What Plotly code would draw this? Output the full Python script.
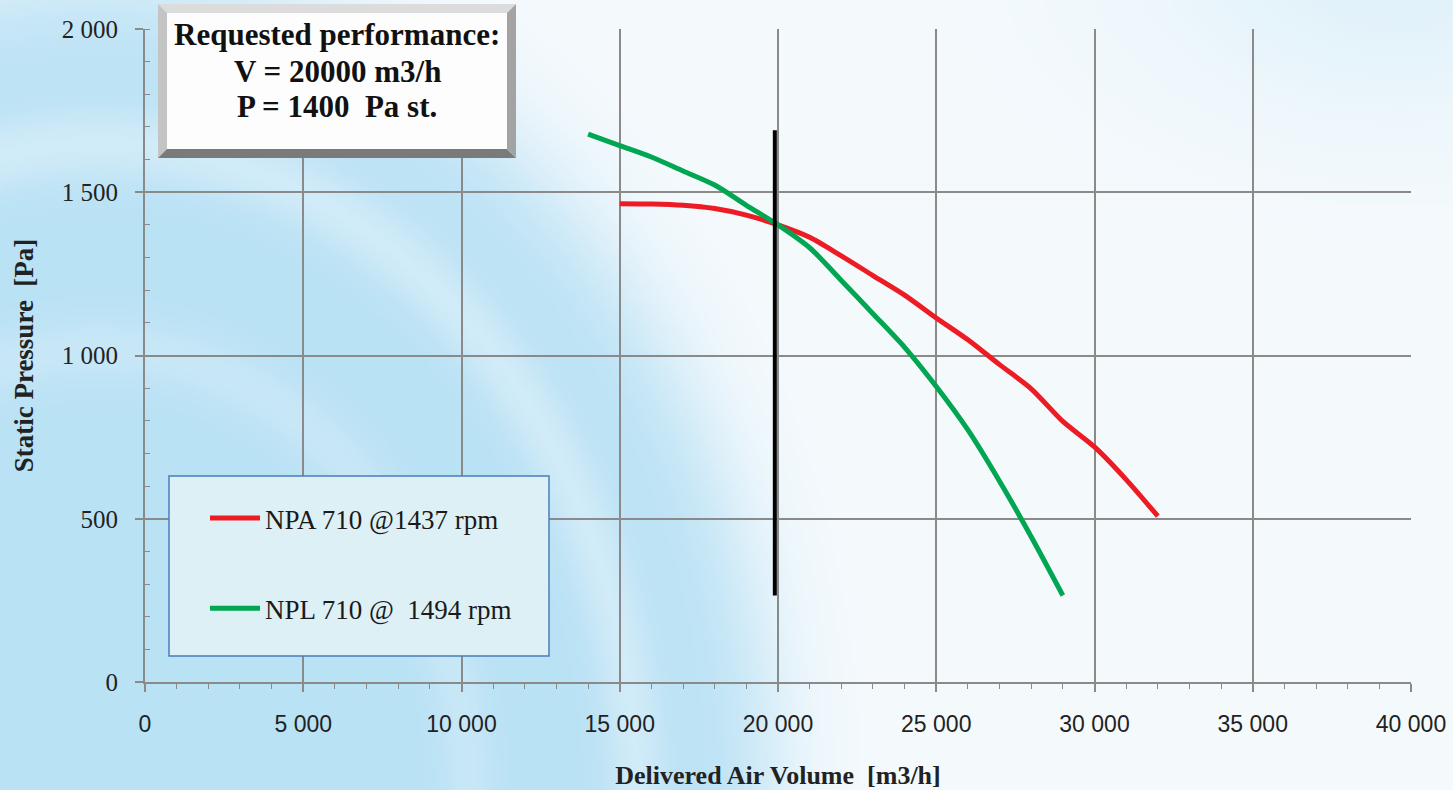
import numpy as np, zlib, struct, base64
import plotly.graph_objects as go

# ---------------- data ----------------
npa_x = [15000, 16000, 17000, 18000, 19000, 20000, 21000, 22000, 23000,
         24000, 25000, 26000, 27000, 28000, 29000, 30000, 31000, 32000]
npa_y = [1465, 1464, 1460, 1450, 1430, 1400, 1362, 1305, 1245,
         1185, 1115, 1048, 972, 898, 798, 720, 620, 508]

npl_x = [14000, 15000, 16000, 17000, 18000, 19000, 20000, 21000, 22000,
         23000, 24000, 25000, 26000, 27000, 28000, 29000]
npl_y = [1678, 1643, 1608, 1565, 1522, 1460, 1400, 1330, 1230,
         1128, 1025, 905, 772, 615, 445, 265]

req_x = [19900, 19900]
req_y = [265, 1690]

x_ticks = [0, 5000, 10000, 15000, 20000, 25000, 30000, 35000, 40000]
y_ticks = [0, 500, 1000, 1500, 2000]

box_lines = ["Requested performance:", "V = 20000 m3/h", "P = 1400\u00a0 Pa st."]

# ---------------- geometry helpers (decoration only) ----------------
W, H = 1453, 790
ML, MR, MT, MB = 145, 42, 29, 108
PW, PH = W - ML - MR, H - MT - MB
def PX(px): return (px - ML) / PW
def PY(py): return (H - MB - py) / PH

# ---------------- background image ----------------
lw, lh = 364, 198
xs = (np.arange(lw) + 0.5) * W / lw
ys = (np.arange(lh) + 0.5) * H / lh
X, Y = np.meshgrid(xs, ys)
e = np.sqrt(((X - 100) / 670) ** 2 + ((Y - 800) / 820) ** 2)
t = 1 / (1 + np.exp((e - 1) / 0.04))
streak = 0.4 * np.exp(-((e - 0.8) / 0.045) ** 2) + 0.25 * np.exp(-((e - 0.55) / 0.04) ** 2)
t = t * (1 - streak)
tint = 0.35 * np.exp(-(((X - 1400) / 260) ** 2 + ((Y + 40) / 160) ** 2))
t = np.maximum(t, tint)
blue = np.array([186, 226, 245], float)
white = np.array([245, 250, 253], float)
img = (white[None, None, :] * (1 - t[..., None]) + blue[None, None, :] * t[..., None]).clip(0, 255).astype(np.uint8)

def png_uri(a):
    h, w, _ = a.shape
    raw = b"".join(b"\x00" + a[i].tobytes() for i in range(h))
    def chunk(tag, data):
        c = struct.pack(">I", len(data)) + tag + data
        return c + struct.pack(">I", zlib.crc32(tag + data) & 0xffffffff)
    png = b"\x89PNG\r\n\x1a\n" + chunk(b"IHDR", struct.pack(">IIBBBBB", w, h, 8, 2, 0, 0, 0)) \
        + chunk(b"IDAT", zlib.compress(raw, 9)) + chunk(b"IEND", b"")
    return "data:image/png;base64," + base64.b64encode(png).decode()

# ---------------- figure ----------------
fig = go.Figure()
fig.add_trace(go.Scatter(x=npa_x, y=npa_y, mode="lines", name="NPA 710 @1437 rpm",
                         line=dict(color="#ed1c24", width=5, shape="spline", smoothing=0.8),
                         legendgroup="a"))
fig.add_trace(go.Scatter(x=npl_x, y=npl_y, mode="lines", name="NPL 710 @\u00a0 1494 rpm",
                         line=dict(color="#00a651", width=5, shape="spline", smoothing=0.8),
                         legendgroup="b"))
fig.add_trace(go.Scatter(x=req_x, y=req_y, mode="lines", showlegend=False,
                         line=dict(color="#000000", width=4)))

serif = "Liberation Serif, Times New Roman, serif"
grid = "#8a8a8a"

shapes = []
# legend box
shapes.append(dict(type="rect", xref="paper", yref="paper",
                   x0=PX(169), x1=PX(549), y0=PY(656), y1=PY(476),
                   fillcolor="#ddf0f5", line=dict(color="#4a7ebb", width=1.5), layer="above"))
# bevelled "requested performance" box
bx0, bx1, by0, by1, b = 158, 516, 4, 158, 9
def path(pts):
    return "M " + " L ".join(f"{PX(a):.5f},{PY(c):.5f}" for a, c in pts) + " Z"
for pts, col in [
    ([(bx0, by0), (bx1, by0), (bx1 - b, by0 + b), (bx0 + b, by0 + b)], "#dcdcdc"),
    ([(bx0, by0), (bx0 + b, by0 + b), (bx0 + b, by1 - b), (bx0, by1)], "#c4c4c4"),
    ([(bx0, by1), (bx0 + b, by1 - b), (bx1 - b, by1 - b), (bx1, by1)], "#7a7a7a"),
    ([(bx1, by0), (bx1, by1), (bx1 - b, by1 - b), (bx1 - b, by0 + b)], "#a3a3a3"),
]:
    shapes.append(dict(type="path", xref="paper", yref="paper", path=path(pts),
                       fillcolor=col, line=dict(width=0), layer="above"))
shapes.append(dict(type="rect", xref="paper", yref="paper",
                   x0=PX(bx0 + b), x1=PX(bx1 - b), y0=PY(by1 - b), y1=PY(by0 + b),
                   fillcolor="#fdfdfd", line=dict(width=0), layer="above"))

annotations = []
for txt, yc in zip(box_lines, [34, 71, 106]):
    annotations.append(dict(xref="paper", yref="paper", x=PX(337), y=PY(yc),
                            text=f"<b>{txt}</b>", showarrow=False,
                            xanchor="center", yanchor="middle",
                            font=dict(family=serif, size=31, color="#111111")))

fig.update_layout(
    width=W, height=H,
    margin=dict(l=ML, r=MR, t=MT, b=MB, autoexpand=False),
    paper_bgcolor="#d6eef9",
    plot_bgcolor="rgba(0,0,0,0)",
    separators=". ",
    showlegend=True,
    legend=dict(x=PX(205), y=PY(494), xanchor="left", yanchor="top",
                bgcolor="rgba(0,0,0,0)", borderwidth=0,
                traceorder="grouped", tracegroupgap=52, itemwidth=50,
                font=dict(family=serif, size=27, color="#1a1a1a")),
    shapes=shapes,
    annotations=annotations,
    images=[dict(source=png_uri(img), xref="paper", yref="paper",
                 x=PX(0), y=PY(0), sizex=W / PW, sizey=H / PH,
                 xanchor="left", yanchor="top", sizing="stretch", layer="below")],
    xaxis=dict(range=[0, 40000], tickvals=x_ticks, tickformat=",d", automargin=False,
               showgrid=True, gridcolor=grid, gridwidth=1.5,
               showline=True, linecolor=grid, linewidth=2,
               ticks="outside", ticklen=8, tickwidth=1.5, tickcolor=grid,
               minor=dict(dtick=1000, ticks="outside", ticklen=5, tickcolor=grid, tickwidth=1.2, showgrid=False),
               tickfont=dict(family="Liberation Sans, Arial, sans-serif", size=23, color="#222222"),
               ticklabelstandoff=12, zeroline=False,
               title=dict(text="<b>Delivered Air Volume\u00a0 [m3/h]</b>", standoff=30,
                          font=dict(family=serif, size=26, color="#222222"))),
    yaxis=dict(range=[0, 2000], tickvals=y_ticks, tickformat=",d", automargin=False,
               showgrid=True, gridcolor=grid, gridwidth=1.5,
               showline=True, linecolor=grid, linewidth=2,
               ticks="outside", ticklen=8, tickwidth=1.5, tickcolor=grid,
               minor=dict(dtick=100, ticks="inside", ticklen=5, tickcolor=grid, tickwidth=1.2, showgrid=False),
               tickfont=dict(family=serif, size=25, color="#222222"),
               ticklabelstandoff=12, zeroline=False,
               title=dict(text="<b>Static Pressure\u00a0 [Pa]</b>", standoff=20,
                          font=dict(family=serif, size=27, color="#222222"))),
)

fig.write_html("out.html")
